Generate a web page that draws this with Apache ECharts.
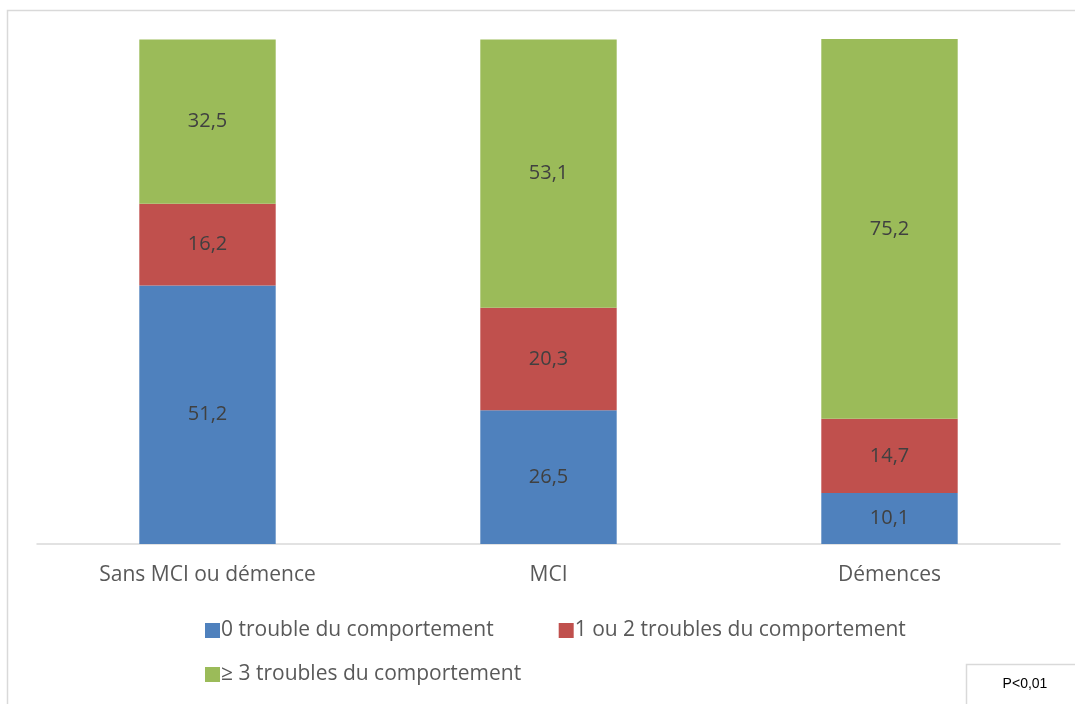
<!DOCTYPE html>
<html lang="fr">
<head>
    <meta charset="UTF-8">
    <title>Troubles du comportement</title>
    <script src="https://cdn.jsdelivr.net/npm/echarts@6/dist/echarts.min.js"></script>
    <style>
        html, body { margin: 0; padding: 0; background: #fff; }
        #main { width: 1075px; height: 704px; }
    </style>
</head>
<body>
<div id="main"></div>
<script>
    var categories = ['Sans MCI ou démence', 'MCI', 'Démences'];
    var seriesNames = ['0 trouble du comportement', '1 ou 2 troubles du comportement', '≥ 3 troubles du comportement'];
    var zeroTrouble = [51.2, 26.5, 10.1];
    var unOuDeux = [16.2, 20.3, 14.7];
    var troisEtPlus = [32.5, 53.1, 75.2];
    var colors = ['#4f81bd', '#c0504d', '#9bbb59'];

    var font = '"Open Sans", sans-serif';
    var chart = echarts.init(document.getElementById('main'));

    function barSerie(name, data, color) {
        return {
            name: name,
            type: 'bar',
            stack: 'total',
            barWidth: '40%',
            data: data,
            itemStyle: { color: color },
            label: {
                show: true,
                position: 'inside',
                color: '#404040',
                fontSize: 20,
                fontFamily: font,
                // virgule décimale
                formatter: function (p) { return String(p.value).replace('.', ','); }
            }
        };
    }

    var legendText = { color: '#595959', fontSize: 21, fontFamily: font, padding: [0, 0, 0, -4] };

    var option = {
        animation: false,
        grid: { left: 37, right: 15, top: 39, bottom: 160 },
        legend: [{
            data: [seriesNames[0], seriesNames[1]],
            left: 200, top: 615,
            itemWidth: 15, itemHeight: 15, itemGap: 65,
            icon: 'rect',
            textStyle: legendText
        }, {
            data: [seriesNames[2]],
            left: 200, top: 659,
            itemWidth: 15, itemHeight: 15,
            icon: 'rect',
            textStyle: legendText
        }],
        xAxis: {
            type: 'category',
            data: categories,
            axisTick: { show: false },
            axisLine: { lineStyle: { color: '#d9d9d9', width: 1.5 } },
            axisLabel: { color: '#595959', fontSize: 21, fontFamily: font, margin: 21 }
        },
        yAxis: {
            type: 'value',
            min: 0, max: 100,
            show: false,
            splitLine: { show: false }
        },
        graphic: [{
            type: 'rect',
            shape: { x: 7.5, y: 10.5, width: 1100, height: 800 },
            style: { fill: null, stroke: '#d9d9d9', lineWidth: 1.5 },
            silent: true
        }, {
            type: 'rect',
            shape: { x: 966.5, y: 664.5, width: 150, height: 60 },
            style: { fill: '#fff', stroke: '#d9d9d9', lineWidth: 1.5 },
            silent: true
        }, {
            type: 'text',
            x: 1025, y: 684,
            style: {
                text: 'P<0,01', fill: '#000', fontSize: 14,
                fontFamily: '"Liberation Sans", Arial, sans-serif',
                align: 'center', verticalAlign: 'middle'
            },
            silent: true
        }],
        series: [
            barSerie(seriesNames[0], zeroTrouble, colors[0]),
            barSerie(seriesNames[1], unOuDeux, colors[1]),
            barSerie(seriesNames[2], troisEtPlus, colors[2])
        ]
    };

    chart.setOption(option);
</script>
</body>
</html>
